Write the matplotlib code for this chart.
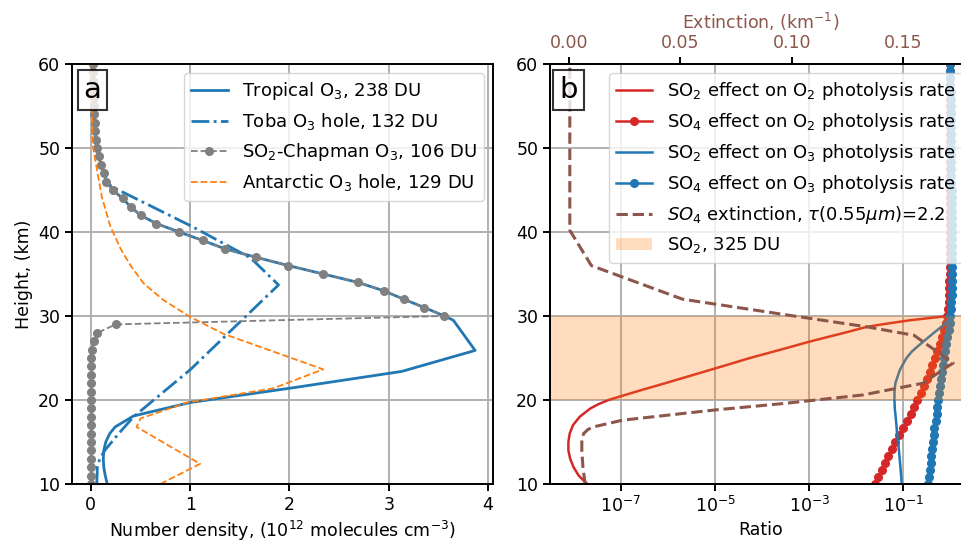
import numpy as np
import matplotlib

matplotlib.use("Agg")
import matplotlib.pyplot as plt
from matplotlib.patches import Patch
from matplotlib.ticker import NullLocator

# ---- panel a: ozone number density (1e12 molecules cm^-3) ----
# shared upper profile, 30..60 km every 1 km
o3_upper_h = [30, 31, 32, 33, 34, 35, 36, 37, 38, 39, 40, 41, 42, 43, 44, 45,
              46, 47, 48, 49, 50, 51, 52, 53, 54, 55, 56, 57, 58, 59, 60]
o3_upper = [3.56, 3.36, 3.15, 2.95, 2.69, 2.34, 1.99, 1.66, 1.35, 1.125, 0.89,
            0.66, 0.50, 0.40, 0.32, 0.22, 0.155, 0.134, 0.104, 0.08, 0.062,
            0.052, 0.045, 0.039, 0.034, 0.030, 0.027, 0.024, 0.022, 0.020, 0.018]

chap_low_h = [10, 11, 12, 13, 14, 15, 16, 17, 18, 19, 20, 21, 22, 23, 24, 25,
              26, 27, 28, 29]
chap_low = [0.005, 0.005, 0.005, 0.005, 0.005, 0.005, 0.005, 0.005, 0.005,
            0.005, 0.005, 0.005, 0.005, 0.005, 0.005, 0.005, 0.008, 0.03,
            0.066, 0.25]

trop_low_h = [10, 11, 12, 13, 14, 15, 16, 16.8, 18.1, 19.7, 21.5, 23.4, 25.9, 29.5]
trop_low = [0.165, 0.145, 0.13, 0.125, 0.13, 0.15, 0.19, 0.245, 0.43, 1.0,
            2.06, 3.13, 3.87, 3.65]

toba_low_h = [10, 12, 13, 14, 16, 18, 23.6, 33.7, 36.9, 40.65, 45.4]
toba_low = [0.06, 0.065, 0.09, 0.14, 0.28, 0.43, 1.0, 1.89, 1.61, 1.02, 0.21]

ant_h = [10, 12.4, 16.8, 17.8, 19.7, 21.4, 23.65, 27.9, 29.9, 31.9, 33.9, 36,
         38, 40.7, 44.2, 48.6, 50.2, 55, 60]
ant_n = [0.70, 1.10, 0.46, 0.50, 0.97, 1.84, 2.34, 1.33, 1.0, 0.73, 0.53,
         0.40, 0.30, 0.195, 0.11, 0.044, 0.02, 0.01, 0.005]

# ---- panel b: photolysis ratios ----
# model levels, 61 levels between 10 and 60 km
h_lev = np.linspace(10, 60, 61)
so4_o2 = [0.0245, 0.0292, 0.0351, 0.0407, 0.0484, 0.0569, 0.0676, 0.0813,
          0.101, 0.120, 0.143, 0.168, 0.200, 0.234, 0.279, 0.324, 0.367,
          0.417, 0.468, 0.531, 0.603, 0.676, 0.750, 0.804, 0.871,
          0.905, 0.93, 0.95, 0.955, 0.96, 0.975, 0.98, 0.98,
          0.99, 0.99, 0.99, 0.99, 0.99, 0.99, 0.99, 0.99,
          1.0, 1.0, 1.0, 1.0, 1.0, 1.0, 1.0, 1.0, 1.0, 1.0,
          1.0, 1.0, 1.0, 1.0, 1.0, 1.0, 1.0, 1.0, 1.0, 1.0]
so4_o3 = [0.339, 0.352, 0.366, 0.380, 0.395, 0.411, 0.427, 0.444, 0.461,
          0.490, 0.509, 0.529, 0.550, 0.580, 0.603, 0.631, 0.671, 0.697,
          0.741, 0.782, 0.826, 0.871, 0.922, 0.962, 1.0,
          1.03, 1.06, 1.08, 1.09, 1.09, 1.09, 1.09, 1.09, 1.09, 1.09, 1.09, 1.09,
          1.09, 1.08, 1.08, 1.08, 1.07, 1.07, 1.06, 1.06, 1.05, 1.05, 1.04, 1.04,
          1.03, 1.03, 1.02, 1.02, 1.02, 1.01, 1.01, 1.01, 1.0, 1.0, 1.0, 1.0]

so2_o2_h = [10, 11, 12, 13, 14, 15, 16, 17, 18, 19, 19.5, 20, 21, 22, 23, 24,
            25, 26, 27, 28, 28.7, 29, 29.5, 30, 31, 60]
so2_o2 = [1.91e-8, 1.26e-8, 9.8e-9, 8.3e-9, 7.6e-9, 7.6e-9, 8.1e-9, 9.5e-9,
          1.32e-8, 2.24e-8, 3.3e-8, 5.4e-8, 2.1e-7, 8.7e-7, 3.5e-6, 1.4e-5,
          5.5e-5, 2.5e-4, 1.1e-3, 5.6e-3, 0.0166, 0.035, 0.141, 0.89, 1.0, 1.0]

so2_o3_h = [10, 12, 14, 16, 18, 19, 20, 21, 22, 23, 23.6, 24, 25, 25.75, 26.5,
            27.3, 28, 28.9, 29.5, 30, 60]
so2_o3 = [0.093, 0.087, 0.081, 0.074, 0.069, 0.066, 0.065, 0.065, 0.068, 0.078,
          0.085, 0.093, 0.117, 0.151, 0.214, 0.316, 0.447, 0.71, 0.89, 1.0, 1.0]

ext_h = [10, 12, 14, 15.2, 16, 16.5, 16.8, 17.6, 18.8, 19.6, 20.6, 22.0, 23.9,
         24.4, 27.7, 28.7, 30.2, 32, 36, 40.2, 60]
ext = [0.0072, 0.0062, 0.0057, 0.0057, 0.0065, 0.0085, 0.011, 0.024, 0.065,
       0.097, 0.132, 0.159, 0.1696, 0.1726, 0.155, 0.134, 0.096, 0.051, 0.010,
       0.0003, 0.0003]

so2_layer = (20, 30)

plt.rcParams.update({
    "font.size": 12.5,
    "legend.fontsize": 13,
    "axes.linewidth": 1.4,
    "xtick.major.size": 5,
    "ytick.major.size": 5,
    "xtick.major.width": 1.4,
    "ytick.major.width": 1.4,
    "grid.linewidth": 1.4,
    "grid.color": "#b0b0b0",
})

fig = plt.figure(figsize=(9.62, 5.42), dpi=100)
W, H = 962.0, 542.0
ax = fig.add_axes([72 / W, 1 - 484 / H, 421 / W, 420 / H])
bx = fig.add_axes([550 / W, 1 - 484 / H, 421 / W, 420 / H])

# panel a
ax.plot(trop_low + o3_upper, trop_low_h + o3_upper_h, color="tab:blue", lw=2,
        label="Tropical O$_3$, 238 DU")
ax.plot(toba_low + o3_upper[16:], toba_low_h + o3_upper_h[16:], color="tab:blue",
        lw=2, ls="-.", label="Toba O$_3$ hole, 132 DU")
ax.plot(chap_low + o3_upper, chap_low_h + o3_upper_h, color="gray", lw=1.3,
        ls="--", marker="o", ms=5.5, label="SO$_2$-Chapman O$_3$, 106 DU")
ax.plot(ant_n, ant_h, color="tab:orange", lw=1.3, ls="--",
        label="Antarctic O$_3$ hole, 129 DU")
ax.set_xlim(-0.19, 4.05)
ax.set_ylim(10, 60)
ax.set_xticks([0, 1, 2, 3, 4])
ax.set_yticks([10, 20, 30, 40, 50, 60])
ax.grid(True)
ax.set_xlabel("Number density, (10$^{12}$ molecules cm$^{-3}$)")
ax.set_ylabel("Height, (km)")
ax.legend(loc="upper right")
ax.text(0.027, 0.972, "a", transform=ax.transAxes, ha="left", va="top",
        fontsize=21,
        bbox=dict(boxstyle="square,pad=0.2", fc="white", ec="black", alpha=0.8, lw=1.5))

# panel b
l1, = bx.plot(so2_o2, so2_o2_h, color="tab:red", lw=1.8,
              label="SO$_2$ effect on O$_2$ photolysis rate")
l2, = bx.plot(so4_o2, h_lev, color="tab:red", lw=1.8, marker="o", ms=5.5,
              label="SO$_4$ effect on O$_2$ photolysis rate")
l3, = bx.plot(so2_o3, so2_o3_h, color="tab:blue", lw=1.8,
              label="SO$_2$ effect on O$_3$ photolysis rate")
l4, = bx.plot(so4_o3, h_lev, color="tab:blue", lw=1.8, marker="o", ms=5.5,
              label="SO$_4$ effect on O$_3$ photolysis rate")
bx.set_xscale("log")
bx.set_xlim(10 ** -8.51, 10 ** 0.44)
bx.set_xticks([1e-7, 1e-5, 1e-3, 1e-1])
bx.xaxis.set_minor_locator(NullLocator())
bx.set_ylim(10, 60)
bx.set_yticks([10, 20, 30, 40, 50, 60])
bx.grid(True)
bx.set_xlabel("Ratio")

bt = bx.twiny()
bt.axhspan(so2_layer[0], so2_layer[1], color="tab:orange", alpha=0.27, lw=0)
l5, = bt.plot(ext, ext_h, color="tab:brown", lw=2.2, ls="--",
              label=r"$SO_4$ extinction, $\tau(0.55\mu m)$=2.2")
bt.set_xlim(-0.0086, 0.1806)
bt.set_xticks([0.0, 0.05, 0.10, 0.15])
bt.set_xticklabels(["0.00", "0.05", "0.10", "0.15"])
bt.xaxis.set_minor_locator(NullLocator())
bt.tick_params(axis="x", labelcolor="tab:brown")
bt.set_xlabel("Extinction, (km$^{-1}$)", color="tab:brown")
bt.set_ylim(10, 60)

span_patch = Patch(facecolor="tab:orange", alpha=0.27, label="SO$_2$, 325 DU")
bt.legend(handles=[l1, l2, l3, l4, l5, span_patch], loc="upper left",
          bbox_to_anchor=(59 / 421, 411 / 420), borderaxespad=0)
bt.text(0.022, 0.972, "b", transform=bt.transAxes, ha="left", va="top",
        fontsize=21,
        bbox=dict(boxstyle="square,pad=0.2", fc="white", ec="black", alpha=0.8, lw=1.5))

fig.savefig("out.png", dpi=100)
